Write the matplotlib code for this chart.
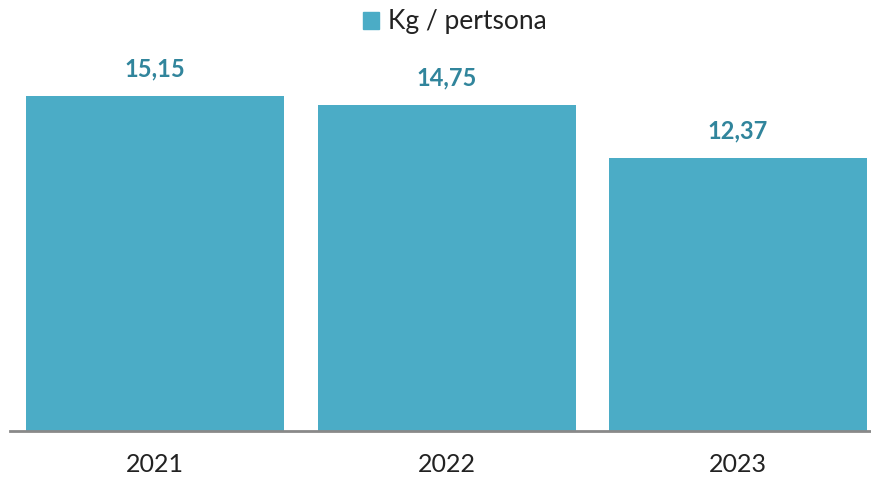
import numpy as np
import matplotlib
matplotlib.use("Agg")
import matplotlib.pyplot as plt
from matplotlib.patches import Patch

plt.rcParams['font.family'] = ['Lato', 'DejaVu Sans']

years = ['2021', '2022', '2023']
kg_pertsona = [15.15, 14.75, 12.37]
serie = 'Kg / pertsona'

bar_col = '#4BACC6'
lab_col = '#31859C'

W, H = 871, 479
fig = plt.figure(figsize=(W / 100, H / 100), dpi=100)
ax = fig.add_axes([9.5 / W, 48 / H, (W - 9.5) / W, (431 - 45) / H])

x = np.arange(len(years))
bars = ax.bar(x, kg_pertsona, width=0.885, color=bar_col)

for xi, v in zip(x, kg_pertsona):
    ax.text(xi, v + 0.7, f'{v:.2f}'.replace('.', ','), ha='center', va='bottom',
            fontsize=17, fontweight='bold', color=lab_col)

ax.set_xlim(-0.5, 2 + (871 - 738) / 291.5)
ax.set_ylim(0, (431 - 45) / 22.1)
ax.set_xticks(x)
ax.set_xticklabels(years, fontsize=18, color='#222222')
ax.tick_params(axis='x', length=0, pad=16)
ax.set_yticks([])
for s in ['top', 'right', 'left']:
    ax.spines[s].set_visible(False)
ax.spines['bottom'].set_color('#898989')
ax.spines['bottom'].set_linewidth(2)

fig.legend(handles=[Patch(color=bar_col, label=serie)], loc='center',
           bbox_to_anchor=(455 / W, 1 - 22 / H), frameon=False, fontsize=19,
           handlelength=0.6, handleheight=0.6, handletextpad=0.34,
           labelcolor='#222222')

fig.savefig('out.png', dpi=100)
